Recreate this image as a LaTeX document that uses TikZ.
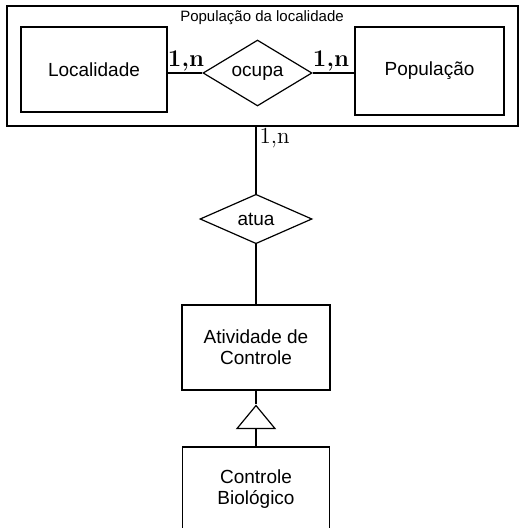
\documentclass[tikz,border=0pt]{standalone}
\usepackage{fontspec}
\setsansfont{Liberation Sans}
\usetikzlibrary{shapes.geometric,positioning}

\tikzset{
  entity/.style={draw, rectangle, minimum width=74pt, minimum height=42.5pt,
    inner sep=0pt, align=center, font=\sffamily\fontsize{9.5}{10.5}\selectfont},
  relation/.style={draw, diamond, inner sep=0pt,
    font=\sffamily\fontsize{9.5}{10.5}\selectfont},
  card/.style={inner sep=0pt, font=\bfseries\fontsize{12}{14}\selectfont},
}

\begin{document}
\begin{tikzpicture}[x=0.5pt,y=-0.5pt,line width=0.6pt]

  % Page size
  \useasboundingbox (0,0) rectangle (521,528);
  \clip (0,0) rectangle (521,528);

  % Aggregation box
  \node[draw, minimum width=255.5pt, minimum height=60pt, inner sep=0pt] (popbox) at (262.5,66) {};
  \node[font=\sffamily\fontsize{7.5}{8}\selectfont, inner sep=0pt] (title) at (262,18) {População da localidade};

  % Entities and relationship inside the box
  \node[entity, minimum width=73pt] (loc) at (94,69.5) {Localidade};
  \node[entity, minimum width=74.5pt, minimum height=44pt] (pop) at (429.5,71) {População};
  \node[relation, minimum width=54.5pt, minimum height=24pt] (ocupa) at (257.5,73) {ocupa};

  \draw (ocupa.west -| loc.east) -- (ocupa.west);
  \draw (ocupa.east) -- (ocupa.east -| pop.west);

  % Cardinalities
  \node[card] (cardloc) at (186,61) {1,n};
  \node[card] (cardpop) at (331,61) {1,n};

  % Relationship with the control activity
  \node[relation, minimum width=56pt, minimum height=19pt] (atua) at (256,219) {atua};
  \draw (popbox.south -| atua.north) -- (atua.north);
  \node[inner sep=0pt, anchor=west, font=\fontsize{11.5}{13}\selectfont] (cardatua) at (259,138) {1,n};

  \node[entity] (atv) at (256,347.5) {Atividade de\\Controle};
  \draw (atua.south) -- (atv.north);

  % Specialisation
  \node[draw, isosceles triangle, isosceles triangle stretches, shape border rotate=90,
    minimum width=19pt, minimum height=11.5pt, inner sep=0pt, anchor=apex] (isa) at (256,404) {};
  \draw (atv.south) -- (isa.apex);

  \node[entity, minimum width=73.5pt] (bio) at (256,489.5) {Controle\\Biológico};
  \draw (isa.lower side) -- (bio.north);

\end{tikzpicture}
\end{document}
